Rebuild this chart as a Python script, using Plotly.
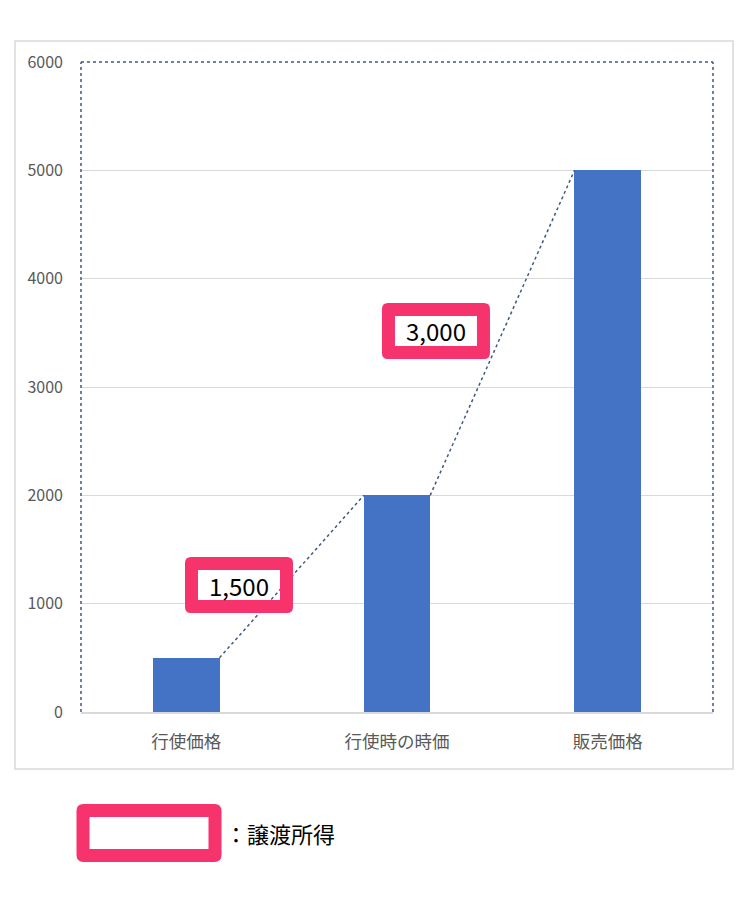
import plotly.graph_objects as go

# chart data
categories = ["行使価格", "行使時の時価", "販売価格"]
values = [500, 2000, 5000]
y_ticks = [0, 1000, 2000, 3000, 4000, 5000, 6000]
legend_text = "：譲渡所得"

BAR_W = 0.315
BLUE = "#4472C4"
PINK = "#F7336E"
DOT = "#3F5A7E"
FONT = "Noto Sans CJK JP"

x_pos = list(range(len(categories)))

fig = go.Figure()
fig.add_trace(go.Bar(x=x_pos, y=values, width=BAR_W,
                     marker=dict(color=BLUE, line=dict(width=0)),
                     hoverinfo="skip"))

# dotted connectors from top of one bar to the next
for i in range(len(values) - 1):
  fig.add_trace(go.Scatter(x=[x_pos[i] + BAR_W / 2, x_pos[i + 1] - BAR_W / 2],
                           y=[values[i], values[i + 1]],
                           mode="lines", line=dict(color=DOT, width=1.5, dash="dot"),
                           hoverinfo="skip"))


def frame_path(w, h, t, r=6):
  # rounded outer rect with a square hole, pixels around anchor
  a, b = w / 2, h / 2
  outer = (f"M {-a + r},{-b} L {a - r},{-b} Q {a},{-b} {a},{-b + r} "
           f"L {a},{b - r} Q {a},{b} {a - r},{b} L {-a + r},{b} "
           f"Q {-a},{b} {-a},{b - r} L {-a},{-b + r} Q {-a},{-b} {-a + r},{-b} Z")
  ia, ib = a - t, b - t
  inner = f" M {-ia},{-ib} L {ia},{-ib} L {ia},{ib} L {-ia},{ib} Z"
  return outer + inner


# gain labels between the bars
label_pos = [(0.25, 1172), (1.185, 3517)]
for i, (lx, ly) in enumerate(label_pos):
  gain = values[i + 1] - values[i]
  fig.add_shape(type="path", xref="x", yref="y", xsizemode="pixel", ysizemode="pixel",
                xanchor=lx, yanchor=ly, path=frame_path(108, 56, 13),
                fillcolor=PINK, fillrule="evenodd", line=dict(width=0), layer="above")
  fig.add_annotation(x=lx, y=ly, xref="x", yref="y", text=f"{gain:,}", showarrow=False,
                     font=dict(family=FONT, size=24, color="black"))

# plot border: dotted left/top/right
fig.add_shape(type="line", xref="paper", yref="paper", x0=0, x1=1, y0=1, y1=1,
              line=dict(color="white", width=2), layer="above")
for x0, y0, x1, y1 in [(0, 0, 0, 1), (0, 1, 1, 1), (1, 0, 1, 1)]:
  fig.add_shape(type="line", xref="paper", yref="paper", x0=x0, y0=y0, x1=x1, y1=y1,
                line=dict(color=DOT, width=1.5, dash="dot"), layer="above")

# outer chart frame
fig.add_shape(type="rect", xref="paper", yref="paper", x0=-0.1044, x1=1.0316,
              y0=-0.0877, y1=1.0323, line=dict(color="#D9D9D9", width=1.5), layer="below")

# legend box below the chart
fig.add_shape(type="path", xref="paper", yref="paper", xsizemode="pixel", ysizemode="pixel",
              xanchor=0.1076, yanchor=-0.186, path=frame_path(145, 58, 13, 7),
              fillcolor=PINK, fillrule="evenodd", line=dict(width=0))
fig.add_annotation(x=(223 - 81) / 632, y=-0.186, xref="paper", yref="paper",
                   xanchor="left", yanchor="middle", text=legend_text, showarrow=False,
                   font=dict(family=FONT, size=22, color="black"))

# page body has an 8px margin, so margins are shifted by that amount
fig.update_layout(
  width=726, height=892,
  margin=dict(l=73, r=21, t=54, b=188),
  plot_bgcolor="white", paper_bgcolor="white",
  showlegend=False, bargap=0,
  font=dict(family=FONT, color="#595959"),
)
fig.update_xaxes(range=[-0.5, 2.5], tickvals=x_pos, ticktext=categories,
                 tickfont=dict(size=17.5, color="#595959"), showgrid=False, zeroline=False,
                 showline=True, linecolor="#D9D9D9", linewidth=1.5, ticks="",
                 ticklabelstandoff=13, fixedrange=True)
fig.update_yaxes(range=[0, 6000], tickvals=y_ticks, tickfont=dict(size=16, color="#595959"),
                 showgrid=True, gridcolor="#D9D9D9", gridwidth=1.2, zeroline=False,
                 ticks="", ticklabelstandoff=17, fixedrange=True)

fig.write_html("out.html")
